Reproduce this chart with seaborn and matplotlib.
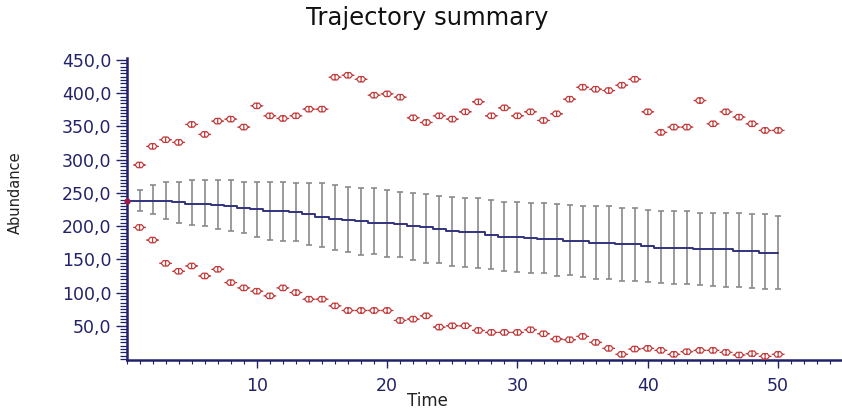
import numpy as np
import pandas as pd
import matplotlib
matplotlib.use("Agg")
import matplotlib.pyplot as plt
from matplotlib.path import Path
from matplotlib.ticker import MultipleLocator, FixedLocator, FixedFormatter
import seaborn as sns

# ---- data ----
time_mean = list(range(0, 51))
mean_vals = [238, 238, 238, 238, 236, 234, 234, 232, 230, 228, 225, 223, 223, 221, 218,
             214, 211, 209, 207, 205, 205, 203, 200, 198, 195, 193, 191, 191, 187, 184,
             184, 182, 180, 180, 178, 178, 175, 175, 173, 173, 170, 167, 167, 167, 165,
             165, 165, 163, 163, 160, 160]

time_pts = list(range(1, 51))
upper_pts = [292, 320, 330, 326, 353, 338, 358, 361, 349, 381, 366, 362, 366, 376, 376,
             424, 427, 421, 397, 399, 394, 363, 356, 366, 361, 372, 387, 366, 378, 366,
             372, 359, 369, 391, 409, 406, 404, 412, 421, 372, 341, 349, 349, 389, 354,
             372, 364, 354, 344, 344]
lower_pts = [198, 179, 144, 132, 140, 125, 135, 115, 107, 102, 95, 107, 100, 90, 90,
             80, 73, 73, 73, 73, 58, 60, 65, 48, 50, 50, 43, 40, 40, 40,
             44, 38, 30, 29, 34, 25, 16, 7, 15, 16, 13, 7, 11, 13, 13,
             10, 6, 8, 4, 7]
err_top = [254.5, 262, 267, 267, 270, 270, 270, 270, 267, 267, 267, 267, 265, 265, 265,
           262, 259.5, 257, 257, 254.5, 252, 249.5, 248, 245.5, 244.5, 242, 242, 239.5,
           237, 237, 234.4, 234.4, 233, 232, 231, 231, 231, 227, 227, 224.4, 222, 222,
           222, 220, 220, 220, 220, 218.4, 218.4, 215.4]
err_bot = [222, 218, 210, 204, 202, 200, 195, 192, 189, 183, 179, 178, 177, 172, 168,
           164, 161, 157, 158, 153, 153, 149, 145, 144, 140, 139, 137, 135, 132.5, 131.5,
           130, 129, 125, 126.5, 124, 120, 120, 117.5, 117.5, 115.5, 114, 113, 113, 111.4,
           110.4, 108, 108, 107.4, 105.4, 105]

y_ticks = [50, 100, 150, 200, 250, 300, 350, 400, 450]
y_tick_labels = ["50,0", "100,0", "150,0", "200,0", "250,0", "300,0", "350,0", "400,0", "450,0"]
x_ticks = [10, 20, 30, 40, 50]
x_tick_labels = ["10", "20", "30", "40", "50"]

title = "Trajectory summary"
xlabel = "Time"
ylabel = "Abundance"

# ---- styling ----
sns.set_style("white")
plt.rcParams["font.family"] = ["DejaVu Sans"]

navy = "#22226a"
red = "#c23a3a"
line_col = "#33337f"
bar_col = "#8a8a8a"

fig = plt.figure(figsize=(8.42, 4.15), dpi=100)
ax = fig.add_axes([126.5 / 842, 1 - 360 / 415, 1 - 126.5 / 842, 302 / 415])

df_mean = pd.DataFrame({"Time": time_mean, "Mean": mean_vals})
df_pts = pd.DataFrame({"Time": time_pts, "Upper": upper_pts, "Lower": lower_pts,
                       "Top": err_top, "Bot": err_bot})
df_pts["Mean"] = df_mean.set_index("Time").loc[time_pts, "Mean"].values

# error bars
yerr = np.vstack([df_pts["Mean"] - df_pts["Bot"], df_pts["Top"] - df_pts["Mean"]])
ax.errorbar(df_pts["Time"], df_pts["Mean"], yerr=yerr, fmt="none", ecolor=bar_col,
            elinewidth=1.2, capsize=2.3, capthick=1.2, zorder=2)

# mean line (stepped)
sns.lineplot(data=df_mean, x="Time", y="Mean", ax=ax, color=line_col, linewidth=1.4,
             drawstyle="steps-mid", zorder=3)
ax.plot([0], [mean_vals[0]], marker="o", markersize=3.5, color="#a01848",
        linestyle="none", zorder=5, clip_on=False)

# custom marker: flattened hollow diamond with side ticks
verts = [(-0.45, 0.55), (0.45, 0.55), (0.9, 0.0), (0.45, -0.55), (-0.45, -0.55),
         (-0.9, 0.0), (-0.45, 0.55),
         (-1.3, 0.0), (-0.9, 0.0), (0.9, 0.0), (1.3, 0.0),
         (0.0, 0.55), (0.0, -0.55)]
codes = [Path.MOVETO, Path.LINETO, Path.LINETO, Path.LINETO, Path.LINETO, Path.LINETO,
         Path.CLOSEPOLY,
         Path.MOVETO, Path.LINETO, Path.MOVETO, Path.LINETO,
         Path.MOVETO, Path.LINETO]
mk = Path(verts, codes)

for col in ["Upper", "Lower"]:
    sns.scatterplot(data=df_pts, x="Time", y=col, ax=ax, marker=mk, s=85,
                    facecolor="none", edgecolor=red, linewidth=0.9, zorder=4)

# axes
ax.set_xlim(0, 54.9)
ax.set_ylim(-1.5, 453)
for s in ["top", "right"]:
    ax.spines[s].set_visible(False)
for s in ["left", "bottom"]:
    ax.spines[s].set_color(navy)
    ax.spines[s].set_linewidth(1.8)

ax.yaxis.set_major_locator(FixedLocator(y_ticks))
ax.yaxis.set_major_formatter(FixedFormatter(y_tick_labels))
ax.yaxis.set_minor_locator(MultipleLocator(5))
ax.xaxis.set_major_locator(FixedLocator(x_ticks))
ax.xaxis.set_major_formatter(FixedFormatter(x_tick_labels))
ax.xaxis.set_minor_locator(MultipleLocator(1))

ax.tick_params(axis="y", which="major", direction="out", length=8, width=1.0,
               color=navy, labelcolor=navy, labelsize=12.5, pad=3, left=True)
ax.tick_params(axis="y", which="minor", direction="out", length=5, width=0.9,
               color=navy, left=True)
ax.tick_params(axis="x", which="major", direction="out", length=6, width=1.0,
               color=navy, labelcolor=navy, labelsize=12.5, pad=6, bottom=True)
ax.tick_params(axis="x", which="minor", direction="out", length=3, width=0.8,
               color=navy, bottom=True)
ax.set_xlabel("")
ax.set_ylabel("")
ax.grid(False)

fig.text(427 / 842, 1 - 18 / 415, title, ha="center", va="center", fontsize=17.5,
         color="#111111")
fig.text(427 / 842, 1 - 401 / 415, xlabel, ha="center", va="center", fontsize=12,
         color="#222222")
fig.text(15 / 842, 1 - 193 / 415, ylabel, ha="center", va="center", rotation=90,
         fontsize=10.5, color="#222222")

fig.savefig("out.png", dpi=100)
